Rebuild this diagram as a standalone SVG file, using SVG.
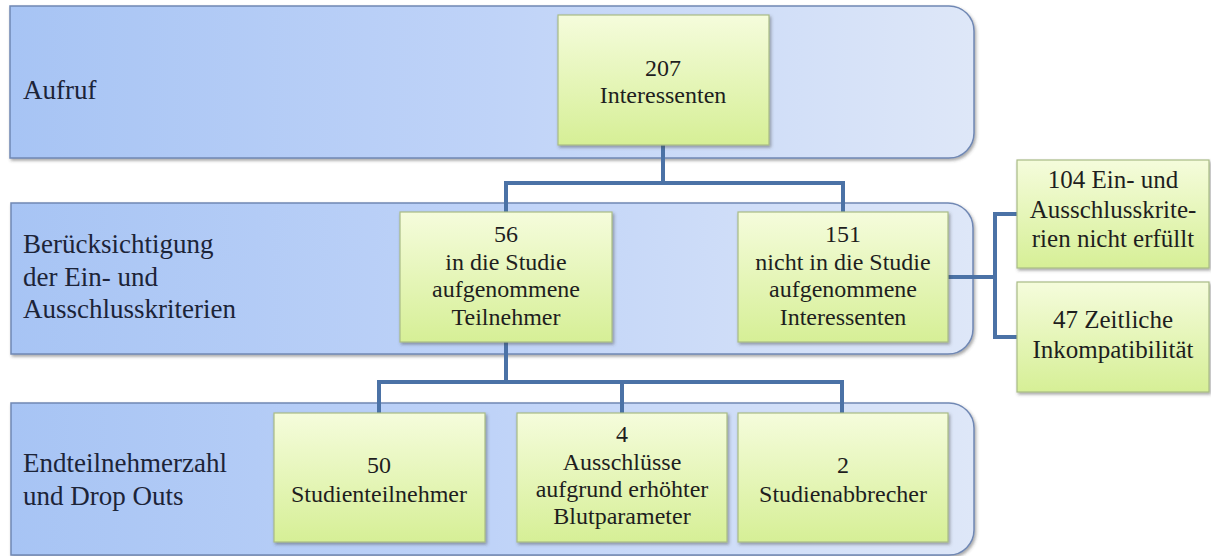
<svg xmlns="http://www.w3.org/2000/svg" width="1211" height="556" viewBox="0 0 1211 556">
<defs>
<linearGradient id="band" x1="0" y1="0" x2="1" y2="0">
<stop offset="0" stop-color="#a7c4f4"/>
<stop offset="0.5" stop-color="#bfd3f8"/>
<stop offset="1" stop-color="#dee7f8"/>
</linearGradient>
<linearGradient id="box" x1="0" y1="0" x2="0" y2="1">
<stop offset="0" stop-color="#f5fcdc"/>
<stop offset="1" stop-color="#d6ef96"/>
</linearGradient>
<filter id="sh" x="-5%" y="-5%" width="112%" height="115%">
<feDropShadow dx="1.5" dy="2" stdDeviation="1.5" flood-color="#404040" flood-opacity="0.45"/>
</filter>
</defs>
<style>
.band{fill:url(#band);stroke:#7088b4;stroke-width:1.5;filter:url(#sh)}
.box{fill:url(#box);stroke:#a9bb86;stroke-width:1.2;filter:url(#sh)}
text{font-family:'Liberation Serif','Times New Roman',serif}
.lbl{font-size:27px;fill:#1c2438}
.t{font-size:24px;fill:#1e1e1e;text-anchor:middle}
.t2{font-size:25px;fill:#1e1e1e;text-anchor:middle}
.c{fill:none;stroke:#4b72a6;stroke-width:4}
</style>

<g id="band-aufruf">
<path class="band" d="M10,6 H949 A25,25 0 0 1 974,31 V133 A25,25 0 0 1 949,158 H10 Z"/>
<text class="lbl" x="23" y="99">Aufruf</text>
</g>
<g id="band-kriterien">
<path class="band" d="M11,203 H948 A25,25 0 0 1 973,228 V329 A25,25 0 0 1 948,354 H11 Z"/>
<text class="lbl" x="23" y="253">Berücksichtigung</text>
<text class="lbl" x="23" y="286">der Ein- und</text>
<text class="lbl" x="23" y="318">Ausschlusskriterien</text>
</g>
<g id="band-end">
<path class="band" d="M11,403 H949 A25,25 0 0 1 974,428 V530 A25,25 0 0 1 949,555 H11 Z"/>
<text class="lbl" x="23" y="472">Endteilnehmerzahl</text>
<text class="lbl" x="23" y="505">und Drop Outs</text>
</g>

<g id="connectors">
<path class="c" d="M663,145 V183 M506,183 H843 M506,181 V212 M843,181 V212"/>
<path class="c" d="M506,342 V382 M379,382 H842 M379,380 V413 M622,380 V413 M842,380 V413"/>
<path class="c" d="M948,277 H995 M995,214 V337 M993,214 H1017 M993,337 H1017"/>
</g>

<g id="n207">
<rect class="box" x="558" y="15" width="211" height="130"/>
<text class="t" x="663" y="76">207</text>
<text class="t" x="663" y="103">Interessenten</text>
</g>
<g id="n56">
<rect class="box" x="400" y="212" width="212" height="130"/>
<text class="t" x="506" y="242">56</text>
<text class="t" x="506" y="270">in die Studie</text>
<text class="t" x="506" y="297">aufgenommene</text>
<text class="t" x="506" y="325">Teilnehmer</text>
</g>
<g id="n151">
<rect class="box" x="738" y="212" width="210" height="130"/>
<text class="t" x="843" y="242">151</text>
<text class="t" x="843" y="270">nicht in die Studie</text>
<text class="t" x="843" y="297">aufgenommene</text>
<text class="t" x="843" y="325">Interessenten</text>
</g>
<g id="n104">
<rect class="box" x="1017" y="160" width="192" height="108"/>
<text class="t2" x="1113" y="188">104 Ein- und</text>
<text class="t2" x="1113" y="218">Ausschlusskrite-</text>
<text class="t2" x="1113" y="247">rien nicht erfüllt</text>
</g>
<g id="n47">
<rect class="box" x="1017" y="282" width="192" height="110"/>
<text class="t2" x="1113" y="328">47 Zeitliche</text>
<text class="t2" x="1113" y="358">Inkompatibilität</text>
</g>
<g id="n50">
<rect class="box" x="274" y="413" width="211" height="129"/>
<text class="t" x="379" y="473">50</text>
<text class="t" x="379" y="502">Studienteilnehmer</text>
</g>
<g id="n4">
<rect class="box" x="517" y="413" width="210" height="129"/>
<text class="t" x="622" y="442">4</text>
<text class="t" x="622" y="470">Ausschlüsse</text>
<text class="t" x="622" y="497">aufgrund erhöhter</text>
<text class="t" x="622" y="524">Blutparameter</text>
</g>
<g id="n2">
<rect class="box" x="738" y="413" width="210" height="129"/>
<text class="t" x="843" y="473">2</text>
<text class="t" x="843" y="502">Studienabbrecher</text>
</g>
</svg>
